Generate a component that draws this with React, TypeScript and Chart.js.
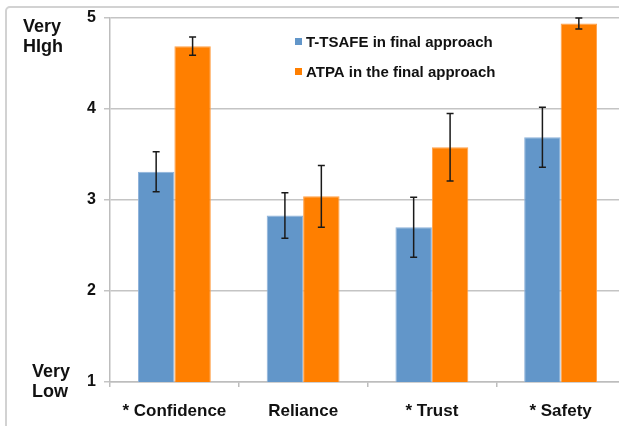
import React, { useEffect, useRef } from "react";
import { Chart, registerables } from "chart.js";

Chart.register(...registerables);

const categories = ["* Confidence", "Reliance", "* Trust", "* Safety"];
const seriesNames = ["T-TSAFE in final approach", "ATPA in the final approach"];
const ttsafeValues = [3.31, 2.83, 2.7, 3.69];
const ttsafeErrors = [0.22, 0.25, 0.33, 0.33];
const atpaValues = [4.69, 3.04, 3.58, 4.94];
const atpaErrors = [0.1, 0.34, 0.37, 0.06];
const yTicks = [1, 2, 3, 4, 5];
const highLabel = ["Very", "HIgh"];
const lowLabel = ["Very", "Low"];

const FONT = "'Liberation Sans', Arial, sans-serif";

const errorBarPlugin = {
  id: "errorBars",
  afterDatasetsDraw(chart: any) {
    const ctx = chart.ctx;
    const yScale = chart.scales.y;
    chart.data.datasets.forEach((ds: any, di: number) => {
      const meta = chart.getDatasetMeta(di);
      meta.data.forEach((bar: any, i: number) => {
        const v = ds.data[i];
        const e = ds.errors[i];
        const x = bar.x;
        const yTop = yScale.getPixelForValue(v + e);
        const yBot = yScale.getPixelForValue(v - e);
        ctx.save();
        ctx.strokeStyle = "#1a1a1a";
        ctx.lineWidth = 1.5;
        ctx.beginPath();
        ctx.moveTo(x, yTop);
        ctx.lineTo(x, yBot);
        ctx.moveTo(x - 3.5, yTop);
        ctx.lineTo(x + 3.5, yTop);
        ctx.moveTo(x - 3.5, yBot);
        ctx.lineTo(x + 3.5, yBot);
        ctx.stroke();
        ctx.restore();
      });
    });
  },
};

const annotationPlugin = {
  id: "annotations",
  afterDraw(chart: any) {
    const ctx = chart.ctx;
    ctx.save();
    ctx.fillStyle = "#111";
    ctx.textBaseline = "middle";
    ctx.textAlign = "left";
    ctx.font = `bold 18px ${FONT}`;
    ctx.fillText(highLabel[0], 23, 27);
    ctx.fillText(highLabel[1], 23, 47);
    ctx.fillText(lowLabel[0], 32, 372);
    ctx.fillText(lowLabel[1], 32, 392);
    // legend
    ctx.font = `bold 15px ${FONT}`;
    const ys = [43, 73];
    chart.data.datasets.forEach((ds: any, i: number) => {
      ctx.fillStyle = ds.backgroundColor;
      ctx.fillRect(295, ys[i] - 5, 7, 7);
      ctx.fillStyle = "#111";
      ctx.fillText(ds.label, 306, ys[i]);
    });
    ctx.restore();
  },
};

export default function App() {
  const ref = useRef<HTMLCanvasElement | null>(null);
  useEffect(() => {
    if (!ref.current) return;
    const chart = new Chart(ref.current, {
      type: "bar",
      data: {
        labels: categories,
        datasets: [
          {
            label: seriesNames[0],
            data: ttsafeValues,
            errors: ttsafeErrors,
            backgroundColor: "#6296C9",
            borderColor: "#8DB2DA",
            borderWidth: 1,
          } as any,
          {
            label: seriesNames[1],
            data: atpaValues,
            errors: atpaErrors,
            backgroundColor: "#FF7F00",
            borderColor: "#FFA048",
            borderWidth: 1,
          } as any,
        ],
      },
      options: {
        animation: false,
        responsive: false,
        maintainAspectRatio: false,
        layout: { padding: { left: 0, right: 15, top: 18, bottom: 0 } },
        datasets: {
          bar: { categoryPercentage: 0.566, barPercentage: 1 },
        },
        plugins: {
          legend: { display: false },
          tooltip: { enabled: false },
        },
        scales: {
          x: {
            grid: {
              drawOnChartArea: false,
              drawTicks: true,
              tickLength: 5,
              color: "#bdbdbd",
              lineWidth: 1.5,
              offset: true,
            },
            border: { color: "#bdbdbd", width: 1.5 },
            ticks: {
              color: "#111",
              font: { family: FONT, size: 17, weight: "bold" },
              padding: 14,
              maxRotation: 0,
            },
            afterFit(scale: any) {
              scale.height = 44;
            },
          },
          y: {
            min: 1,
            max: 5,
            afterBuildTicks(scale: any) {
              scale.ticks = yTicks.map((v) => ({ value: v }));
            },
            grid: {
              color: "#c4c4c4",
              lineWidth: 1.5,
              tickLength: 6,
            },
            border: { color: "#bdbdbd", width: 1.5 },
            ticks: {
              color: "#111",
              font: { family: FONT, size: 16, weight: "bold" },
              padding: 8,
            },
            afterFit(scale: any) {
              scale.width = 110;
            },
          },
        },
      } as any,
      plugins: [errorBarPlugin, annotationPlugin],
    });
    return () => chart.destroy();
  }, []);

  return (
    <div
      style={{
        position: "fixed",
        left: 0,
        top: 0,
        width: 619,
        height: 426,
        overflow: "hidden",
        background: "#fff",
      }}
    >
      <div
        style={{
          position: "absolute",
          left: 5,
          top: 6,
          width: 700,
          height: 500,
          border: "2px solid #d2d2d2",
          borderRadius: 5,
        }}
      />
      <canvas
        ref={ref}
        width={640}
        height={426}
        style={{ position: "absolute", left: 0, top: 0, width: 640, height: 426 }}
      />
    </div>
  );
}
